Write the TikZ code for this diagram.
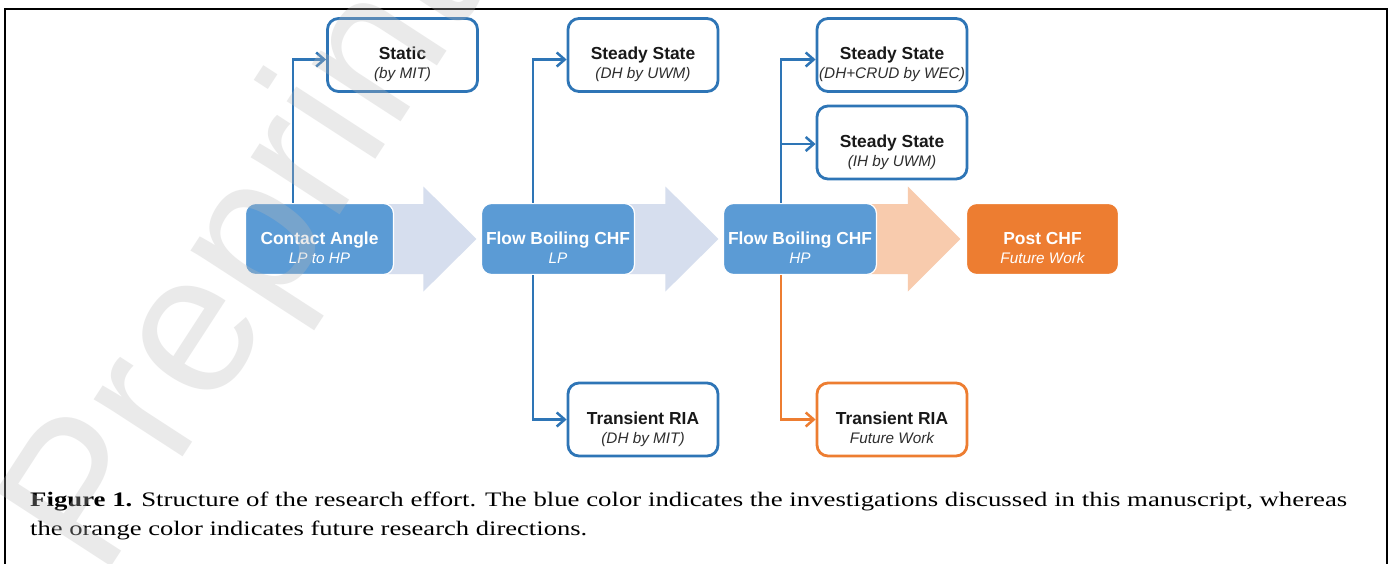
\documentclass[tikz,border=0pt]{standalone}
\usepackage{fontspec}
\setmainfont{Liberation Serif}
\newfontfamily\arialf{Liberation Sans}
\usetikzlibrary{arrows.meta,calc}
\definecolor{bluefill}{RGB}{91,155,213}
\definecolor{blueline}{RGB}{46,117,182}
\definecolor{orangefill}{RGB}{237,125,49}
\definecolor{lightblue}{RGB}{214,222,238}
\definecolor{lightorange}{RGB}{248,203,173}
\definecolor{wmgray}{RGB}{186,186,186}
\begin{document}
\begin{tikzpicture}[x=1pt,y=-1pt,
  outbox/.style={draw=blueline, line width=2.8pt, rounded corners=11pt, fill=white,
    minimum width=150pt, minimum height=73pt, inner sep=0pt},
  orbox/.style={outbox, draw=orangefill},
  fillbox/.style={draw=white, line width=1.2pt, fill=bluefill, rounded corners=10pt,
    minimum width=153pt, minimum height=71pt, inner sep=0pt},
  postbox/.style={fillbox, fill=orangefill},
  ttl/.style={anchor=base, inner sep=0pt, font=\arialf\bfseries\fontsize{17.4}{20}\selectfont, text=black!90},
  sub/.style={anchor=base, inner sep=0pt, font=\arialf\itshape\fontsize{15.3}{18}\selectfont, text=black!82},
  wttl/.style={ttl, text=white},
  wsub/.style={sub, text=white},
  conn/.style={draw=blueline, line width=2.5pt, -{Straight Barb[length=8pt,width=14pt]}},
  oconn/.style={conn, draw=orangefill},
  caption/.style={anchor=base west, inner sep=0pt, font=\fontsize{20.6}{24}\selectfont}
]
\useasboundingbox (0,0) rectangle (1392,563);
\fill[white] (0,0) rectangle (1392,563);
% frame
\draw[line width=2.4pt] (5,575) -- (5,9) -- (1387,9) -- (1387,575);

% main row boxes
\node[fillbox, minimum width=148pt] (ca) at (319.5,239) {};
\node[fillbox] (lp) at (558,239) {};
\node[fillbox] (hp) at (800,239) {};
\node[postbox, minimum width=152pt] (post) at (1042.5,239) {};

% block arrows
\fill[lightblue] ($(ca.center)+(0,-35)$) -- ($(lp.west)+(-57.5,-35)$) -- ($(lp.west)+(-57.5,-52.5)$)
  -- ($(lp.west)+(-4.5,0)$) -- ($(lp.west)+(-57.5,52.5)$) -- ($(lp.west)+(-57.5,35)$)
  -- ($(ca.center)+(0,35)$) -- cycle;
\fill[lightblue] ($(lp.center)+(0,-35)$) -- ($(hp.west)+(-57.5,-35)$) -- ($(hp.west)+(-57.5,-52.5)$)
  -- ($(hp.west)+(-4.5,0)$) -- ($(hp.west)+(-57.5,52.5)$) -- ($(hp.west)+(-57.5,35)$)
  -- ($(lp.center)+(0,35)$) -- cycle;
\fill[lightorange] ($(hp.center)+(0,-35)$) -- ($(post.west)+(-58,-35)$) -- ($(post.west)+(-58,-52.5)$)
  -- ($(post.west)+(-5.5,0)$) -- ($(post.west)+(-58,52.5)$) -- ($(post.west)+(-58,35)$)
  -- ($(hp.center)+(0,35)$) -- cycle;

% redraw filled boxes on top of the arrows
\node[fillbox, minimum width=148pt] (ca2) at (ca.center) {};
\node[fillbox] (lp2) at (lp.center) {};
\node[fillbox] (hp2) at (hp.center) {};
\node[postbox, minimum width=152pt] (post2) at (post.center) {};

\node[wttl] (ca-t) at (319.5,244.5) {Contact Angle};
\node[wsub] (ca-s) at (319.5,263.5) {LP to HP};
\node[wttl] (lp-t) at (558,244.5) {Flow Boiling CHF};
\node[wsub] (lp-s) at (558,263.5) {LP};
\node[wttl] (hp-t) at (800,244.5) {Flow Boiling CHF};
\node[wsub] (hp-s) at (800,263.5) {HP};
\node[wttl] (post-t) at (1042.5,244.5) {Post CHF};
\node[wsub] (post-s) at (1042.5,263.5) {Future Work};

% outline boxes
\node[outbox] (static) at (402.5,55) {};
\node[outbox] (ss1) at (643,55) {};
\node[outbox] (ss2) at (892,55) {};
\node[outbox] (ss3) at (892,142.5) {};
\node[outbox] (tr1) at (643,419.5) {};
\node[orbox] (tr2) at (892,419.5) {};

\node[ttl] (static-t) at (402.5,59.5) {Static};
\node[sub] (static-s) at (402.5,78.5) {(by MIT)};
\node[ttl] (ss1-t) at (643,59.5) {Steady State};
\node[sub] (ss1-s) at (643,78.5) {(DH by UWM)};
\node[ttl] (ss2-t) at (892,59.5) {Steady State};
\node[sub] (ss2-s) at (892,78.5) {(DH+CRUD by WEC)};
\node[ttl] (ss3-t) at (892,147) {Steady State};
\node[sub] (ss3-s) at (892,166) {(IH by UWM)};
\node[ttl] (tr1-t) at (643,424) {Transient RIA};
\node[sub] (tr1-s) at (643,443) {(DH by MIT)};
\node[ttl] (tr2-t) at (892,424) {Transient RIA};
\node[sub] (tr2-s) at (892,443) {Future Work};

% connectors
\coordinate (xa) at (293,0);
\coordinate (xb) at (533,0);
\coordinate (xc) at (781,0);
\coordinate (ss3in) at ([yshift=-1.5pt]ss3.west);
\draw[conn] (xa |- ca.north) |- ([yshift=-4.5pt]static.west);
\draw[conn] (xb |- lp.north) |- ([yshift=-4.5pt]ss1.west);
\draw[conn] (xb |- lp.south) |- (tr1.west);
\draw[conn] (xc |- hp.north) |- ([yshift=-4.5pt]ss2.west);
\draw[conn] (xc |- ss3in) -- (ss3in);
\draw[oconn] (xc |- hp.south) |- (tr2.west);

% caption
\node[caption] (cap1) at (30,506) {\resizebox{1317pt}{\height}{\textbf{Figure 1.} Structure of the research effort. The blue color indicates the investigations discussed in this manuscript, whereas}};
\node[caption] (cap2) at (30,535) {\resizebox{557pt}{\height}{the orange color indicates future research directions.}};

% watermark
\node[font=\arialf\fontsize{200}{200}\selectfont, text=wmgray, text opacity=0.3, rotate=57, inner sep=0pt] (wmk) at (250,259) {Preprint};
\end{tikzpicture}
\end{document}
